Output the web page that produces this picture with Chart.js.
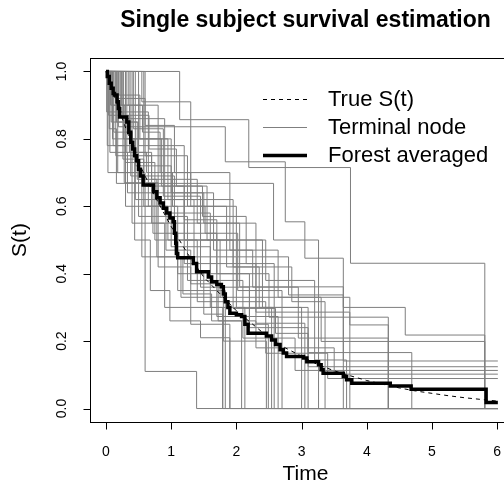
<!DOCTYPE html>
<html lang="en">
<head>
<meta charset="UTF-8">
<title>Single subject survival estimation</title>
<style>
  body { margin: 0; overflow: hidden; background: #fff; }
  #wrap { position: relative; width: 530px; height: 495px; }
</style>
<script src="https://cdn.jsdelivr.net/npm/chart.js"></script>
</head>
<body>
<div id="wrap"><canvas id="survChart"></canvas></div>
<script>
// axis ticks
const xTicks = [0, 1, 2, 3, 4, 5, 6];
const yTicks = [0, 0.2, 0.4, 0.6, 0.8, 1.0];
const yTickLabels = ['0.0', '0.2', '0.4', '0.6', '0.8', '1.0'];

// forest averaged estimate (step curve)
const forestTime = [0, 0.02, 0.05, 0.08, 0.11, 0.13, 0.17, 0.19, 0.21, 0.32, 0.35, 0.38, 0.41, 0.44, 0.47, 0.5, 0.53, 0.57,
  0.73, 0.78, 0.83, 0.88, 0.93, 0.98, 1.03, 1.05, 1.07, 1.08, 1.1, 1.34, 1.39, 1.57, 1.62, 1.7, 1.77, 1.8, 1.83, 1.87, 1.9,
  2.0, 2.08, 2.13, 2.18, 2.46, 2.54, 2.6, 2.67, 2.72, 2.77, 3.03, 3.08, 3.26, 3.3, 3.33, 3.64, 3.69, 3.77, 4.36, 4.68, 5.83, 6.01];
const forestSurv = [1, 0.985, 0.965, 0.95, 0.935, 0.93, 0.91, 0.89, 0.865, 0.85, 0.82, 0.79, 0.77, 0.75, 0.735, 0.71, 0.69, 0.663,
  0.643, 0.625, 0.61, 0.594, 0.58, 0.565, 0.554, 0.52, 0.49, 0.46, 0.447, 0.43, 0.406, 0.39, 0.376, 0.368, 0.361, 0.34, 0.317, 0.3, 0.283,
  0.278, 0.273, 0.25, 0.223, 0.215, 0.203, 0.19, 0.174, 0.165, 0.154, 0.15, 0.139, 0.13, 0.115, 0.105, 0.095, 0.085, 0.075, 0.067, 0.057, 0.018, 0.018];

// true survival curve
const trueTime = [0, 0.25, 0.5, 0.75, 1, 1.25, 1.5, 1.75, 2, 2.25, 2.5, 2.75, 3, 3.25, 3.5, 3.75, 4, 4.25, 4.5, 4.75, 5, 5.25, 5.5, 5.75, 6];
const trueSurv = [1, 0.86, 0.73, 0.63, 0.54, 0.46, 0.39, 0.34, 0.29, 0.25, 0.21, 0.18, 0.155, 0.13, 0.112, 0.097, 0.083, 0.072, 0.061, 0.052, 0.045, 0.038, 0.032, 0.027, 0.022];

// terminal node curves, one row per node
const nodeTime = [
  [0, 1.13, 2.19, 3.75, 5.81, 6.01],
  [0, 0.05, 0.16, 2.57, 3.26, 6.01],
  [0, 0.19, 1.83, 2.75, 3.05, 3.64, 6.01],
  [0, 0.35, 0.8, 1.5, 2.05, 3.64, 6.01],
  [0, 0.55, 1.3, 2.0, 2.8, 3.64, 4.59, 5.81, 6.01],
  [0, 0.1, 0.45, 1.2, 2.3, 3.74, 6.01],
  [0, 0.25, 0.9, 1.6, 2.5, 4.33, 6.01],
  [0, 0.02, 0.3, 0.95, 1.75, 3.74, 4.33, 6.01],
  [0, 0.6, 1.05, 1.9, 2.64, 3.3, 5.81, 6.01],
  [0, 0.15, 0.7, 1.45, 2.2, 3.1, 4.69, 6.01],
  [0, 0.4, 0.85, 1.55, 2.4, 3.1, 6.01],
  [0, 0.08, 0.5, 1.25, 2.1, 2.9, 6.01],
  [0, 0.3, 0.75, 1.4, 2.45, 3.4, 6.01],
  [0, 0.03, 0.6, 1.39, 6.01],
  [0, 0.12, 0.4, 0.9, 1.79, 6.01],
  [0, 0.22, 0.65, 1.1, 1.83, 6.01],
  [0, 0.07, 0.28, 0.8, 1.3, 1.9, 6.01],
  [0, 0.45, 1.0, 1.6, 2.13, 6.01],
  [0, 0.18, 0.55, 1.15, 1.8, 2.46, 6.01],
  [0, 0.5, 1.2, 1.7, 2.2, 2.49, 6.01],
  [0, 0.27, 0.95, 1.35, 2.0, 2.54, 6.01],
  [0, 0.04, 0.38, 1.05, 1.7, 2.64, 6.01],
  [0, 0.32, 0.7, 1.4, 2.3, 3.05, 6.01],
  [0, 0.58, 1.2, 1.95, 2.6, 3.1, 6.01],
  [0, 0.14, 0.6, 1.25, 1.85, 2.85, 3.36, 6.01],
  [0, 0.42, 0.88, 1.45, 2.45, 3.2, 3.69, 6.01],
  [0, 0.06, 0.33, 0.72, 1.1, 1.5, 1.79, 6.01],
  [0, 0.2, 0.52, 1.0, 1.65, 2.25, 2.95, 4.33, 6.01],
  [0, 0.09, 0.36, 0.62, 1.02, 1.52, 2.02, 2.7, 6.01],
  [0, 0.16, 0.48, 0.78, 1.18, 1.62, 2.08, 6.01],
  [0, 0.24, 0.56, 0.83, 1.3, 1.95, 2.35, 3.0, 6.01],
  [0, 0.11, 0.44, 0.68, 0.98, 1.45, 1.9, 6.01],
  [0, 0.37, 0.66, 1.08, 1.48, 2.15, 2.58, 6.01],
  [0, 0.01, 0.26, 0.58, 0.92, 1.3, 1.72, 2.3, 3.5, 6.01]
];
const nodeSurv = [
  [1, 0.857, 0.715, 0.431, 0, 0],
  [1, 0.83, 0.668, 0.5, 0, 0],
  [1, 0.836, 0.732, 0.554, 0.446, 0.141, 0.141],
  [1, 0.9, 0.64, 0.55, 0.361, 0, 0],
  [1, 0.91, 0.6, 0.45, 0.337, 0.3, 0.218, 0, 0],
  [1, 0.8, 0.62, 0.43, 0.286, 0, 0],
  [1, 0.86, 0.58, 0.4, 0.271, 0, 0],
  [1, 0.78, 0.6, 0.5, 0.33, 0.248, 0, 0],
  [1, 0.84, 0.7, 0.47, 0.33, 0.199, 0, 0],
  [1, 0.75, 0.55, 0.36, 0.24, 0.166, 0, 0],
  [1, 0.8, 0.66, 0.5, 0.3, 0.124, 0.124],
  [1, 0.85, 0.57, 0.38, 0.209, 0.113, 0.113],
  [1, 0.73, 0.5, 0.317, 0.164, 0.089, 0.089],
  [1, 0.7, 0.11, 0, 0],
  [1, 0.82, 0.55, 0.3, 0, 0],
  [1, 0.88, 0.6, 0.35, 0, 0],
  [1, 0.9, 0.67, 0.42, 0.25, 0, 0],
  [1, 0.72, 0.48, 0.3, 0, 0],
  [1, 0.7, 0.45, 0.33, 0.2, 0, 0],
  [1, 0.78, 0.56, 0.4, 0.25, 0, 0],
  [1, 0.8, 0.62, 0.45, 0.3, 0, 0],
  [1, 0.87, 0.69, 0.52, 0.273, 0, 0],
  [1, 0.76, 0.68, 0.55, 0.253, 0, 0],
  [1, 0.66, 0.5, 0.297, 0.223, 0, 0],
  [1, 0.92, 0.75, 0.6, 0.42, 0.317, 0, 0],
  [1, 0.83, 0.63, 0.5, 0.38, 0.144, 0, 0],
  [1, 0.76, 0.64, 0.52, 0.4, 0.28, 0, 0],
  [1, 0.93, 0.8, 0.64, 0.47, 0.36, 0.209, 0, 0],
  [1, 0.9, 0.76, 0.7, 0.6, 0.52, 0.35, 0, 0],
  [1, 0.85, 0.68, 0.45, 0.34, 0.26, 0, 0],
  [1, 0.9, 0.82, 0.7, 0.62, 0.42, 0.3, 0, 0],
  [1, 0.78, 0.5, 0.35, 0.26, 0.21, 0, 0],
  [1, 0.87, 0.77, 0.66, 0.57, 0.43, 0, 0],
  [1, 0.88, 0.74, 0.6, 0.47, 0.37, 0.26, 0.18, 0.102, 0.102]
];

const legendLabels = ['True S(t)', 'Terminal node', 'Forest averaged'];

function toPoints(ts, ss) {
  return ts.map((t, i) => ({ x: t, y: ss[i] }));
}

const FONT = "'Liberation Sans', Arial, sans-serif";

const datasets = [
  {
    label: 'Forest averaged',
    data: toPoints(forestTime, forestSurv),
    borderColor: '#000',
    borderWidth: 3.5,
    stepped: true
  },
  {
    label: 'True S(t)',
    data: toPoints(trueTime, trueSurv),
    borderColor: '#000',
    borderWidth: 1,
    borderDash: [4, 4]
  }
];
nodeTime.forEach((ts, i) => {
  datasets.push({
    label: 'Terminal node',
    data: toPoints(ts, nodeSurv[i]),
    borderColor: '#7f7f7f',
    borderWidth: 1,
    stepped: true
  });
});

// R-like box, axes, titles and legend
const rDecor = {
  id: 'rDecor',
  afterDraw(chart) {
    const { ctx, chartArea: a, scales: { x, y } } = chart;
    ctx.save();
    ctx.strokeStyle = '#000';
    ctx.lineWidth = 1;
    ctx.strokeRect(Math.round(a.left) + 0.5, Math.round(a.top) + 0.5,
      Math.round(a.right - a.left), Math.round(a.bottom - a.top));

    const bottom = Math.round(a.bottom) + 0.5;
    const left = Math.round(a.left) + 0.5;
    ctx.beginPath();
    xTicks.forEach(v => {
      const px = Math.round(x.getPixelForValue(v)) + 0.5;
      ctx.moveTo(px, bottom);
      ctx.lineTo(px, bottom + 7);
    });
    yTicks.forEach(v => {
      const py = Math.round(y.getPixelForValue(v)) + 0.5;
      ctx.moveTo(left, py);
      ctx.lineTo(left - 7, py);
    });
    ctx.stroke();

    ctx.fillStyle = '#000';
    ctx.font = '14px ' + FONT;
    ctx.textAlign = 'center';
    ctx.textBaseline = 'middle';
    xTicks.forEach(v => {
      ctx.fillText(String(v), x.getPixelForValue(v), 452);
    });
    yTickLabels.forEach((lab, i) => {
      ctx.save();
      ctx.translate(62, y.getPixelForValue(yTicks[i]));
      ctx.rotate(-Math.PI / 2);
      ctx.fillText(lab, 0, 0);
      ctx.restore();
    });

    const cx = (a.left + a.right) / 2;
    ctx.font = '21px ' + FONT;
    ctx.fillText('Time', cx, 474);
    ctx.save();
    ctx.translate(20, (a.top + a.bottom) / 2);
    ctx.rotate(-Math.PI / 2);
    ctx.fillText('S(t)', 0, 0);
    ctx.restore();

    ctx.font = 'bold 23px ' + FONT;
    ctx.fillText('Single subject survival estimation', cx, 21);

    // legend
    const rows = [99, 127, 155];
    ctx.font = '22px ' + FONT;
    ctx.textAlign = 'left';
    rows.forEach((ry, i) => {
      ctx.beginPath();
      ctx.setLineDash(i === 0 ? [4, 4] : []);
      ctx.lineWidth = i === 2 ? 3.5 : 1;
      ctx.strokeStyle = i === 1 ? '#7f7f7f' : '#000';
      ctx.moveTo(263, ry + 0.5);
      ctx.lineTo(307, ry + 0.5);
      ctx.stroke();
      ctx.fillText(legendLabels[i], 328, ry + 1);
    });
    ctx.restore();
  }
};

new Chart(document.getElementById('survChart'), {
  type: 'line',
  data: { datasets },
  options: {
    responsive: true,
    maintainAspectRatio: false,
    animation: false,
    layout: { padding: { left: 90, top: 58, right: 9, bottom: 73 } },
    elements: { point: { radius: 0 }, line: { fill: false, tension: 0 } },
    scales: {
      x: { type: 'linear', min: -0.245, max: 6.365, display: false },
      y: { type: 'linear', min: -0.04, max: 1.04, display: false }
    },
    plugins: { legend: { display: false }, tooltip: { enabled: false }, title: { display: false } }
  },
  plugins: [rDecor]
});
</script>
</body>
</html>
